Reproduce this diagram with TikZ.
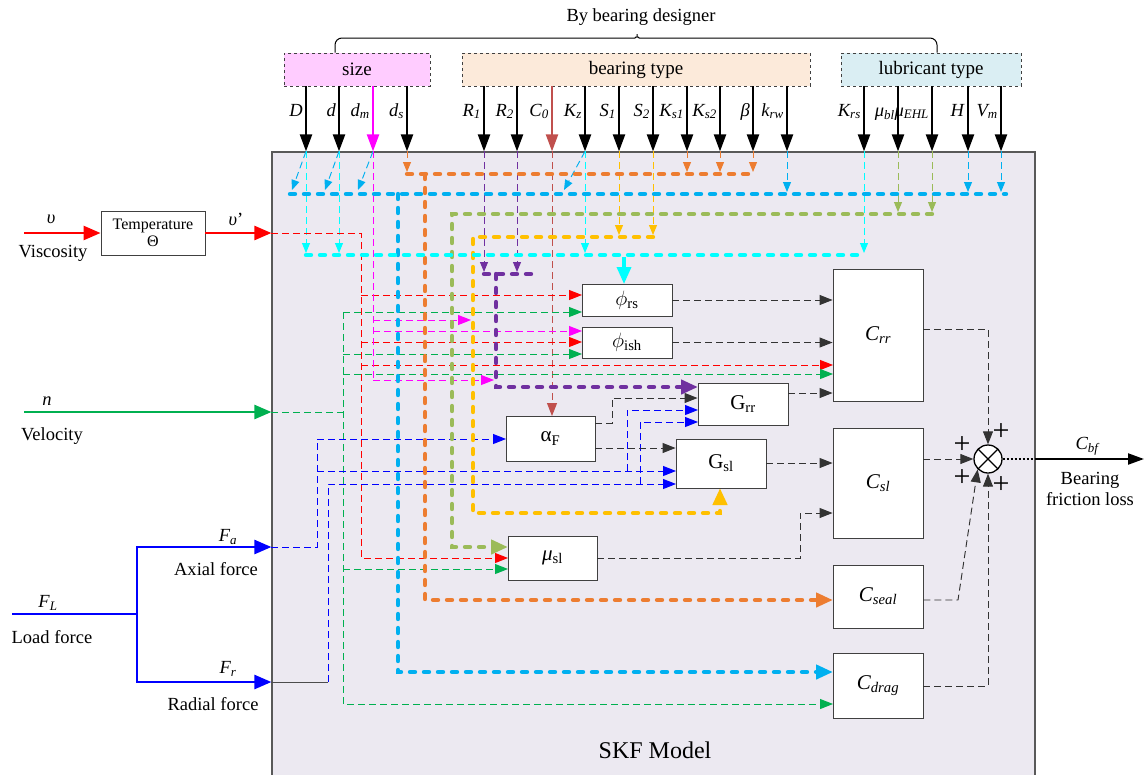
\documentclass[tikz,border=0pt]{standalone}
\usepackage{fontspec}
\setmainfont{Liberation Serif}
\usepackage{amsmath}
\usetikzlibrary{arrows.meta, positioning, calc}
\definecolor{sky}{HTML}{00B0F0}
\definecolor{cyn}{HTML}{00FFFF}
\definecolor{orng}{HTML}{ED7D31}
\definecolor{olv}{HTML}{9BBB59}
\definecolor{yel}{HTML}{FFC000}
\definecolor{purp}{HTML}{7030A0}
\definecolor{brwn}{HTML}{C0504D}
\definecolor{rd}{HTML}{FF0000}
\definecolor{grn}{HTML}{00B050}
\definecolor{mag}{HTML}{FF00FF}
\definecolor{blu}{HTML}{0000FF}
\definecolor{skfbg}{HTML}{ECE9F1}
\definecolor{sizefill}{HTML}{FFCCFF}
\definecolor{typefill}{HTML}{FCEADA}
\definecolor{lubefill}{HTML}{DAEEF3}

\begin{document}
\begin{tikzpicture}[x=1pt, y=-1pt,
  blk/.style={draw=black!75, fill=white, line width=0.9pt, inner sep=0pt, font=\fontsize{21}{23}\selectfont},
  grp/.style={draw=black!75, dashed, line width=0.9pt, minimum height=33pt, inner sep=0pt, font=\fontsize{19}{21}\selectfont},
  lab/.style={font=\fontsize{18.5}{21}\selectfont, inner sep=0pt},
  plus/.style={font=\fontsize{30}{30}\selectfont, inner sep=0pt},
  dl/.style={line width=0.95pt, dash pattern=on 7pt off 4pt},
  dt/.style={line width=4.4pt, dash pattern=on 5pt off 9pt, line cap=round},
  sa/.style={-{Triangle[length=10pt,width=8pt]}},
  ma/.style={-{Triangle[length=13pt,width=10pt]}},
  la/.style={-{Triangle[length=17pt,width=14pt]}},
  toparr/.style={line width=2.2pt, -{Triangle[length=17pt,width=12pt]}},
  inarr/.style={line width=2.5pt, -{Triangle[length=17pt,width=14pt]}}
]
\useasboundingbox (0,0) rectangle (1145,774);

\node[draw=black!65, fill=skfbg, line width=1.2pt, minimum width=763pt, minimum height=630pt, inner sep=0pt] (skf) at (653.5,467) {};
\node[lab, font=\fontsize{24}{26}\selectfont] (skfl) at (655,750) {SKF Model};

% parameter groups
\node[grp, fill=sizefill, minimum width=146pt] (size) at (357,69.5) {size};
\node[grp, fill=typefill, minimum width=348pt] (btype) at (636,69.5) {bearing type};
\node[grp, fill=lubefill, minimum width=180pt] (lube) at (931,69.5) {lubricant type};
\draw[line width=1pt, rounded corners=7pt] (size.north -| 335,0) -- (335,38) -- (628,38)
  .. controls (634,38) and (637,36) .. (637,30) .. controls (637,36) and (640,38) .. (646,38)
  -- (937,38) -- (lube.north -| 937,0);
\node[lab] (bbd) at (641,17) {By bearing designer};

\foreach \x/\b/\c/\t in {306/size/black/{\textit{D}}, 339/size/black/{\textit{d}},
  373/size/mag/{\textit{d\textsubscript{m}}}, 407/size/black/{\textit{d\textsubscript{s}}},
  484/btype/black/{\textit{R\textsubscript{1}}}, 517/btype/black/{\textit{R\textsubscript{2}}},
  552/btype/brwn/{\textit{C\textsubscript{0}}}, 585/btype/black/{\textit{K\textsubscript{z}}},
  619/btype/black/{\textit{S\textsubscript{1}}}, 653/btype/black/{\textit{S\textsubscript{2}}},
  687/btype/black/{\textit{K\textsubscript{s1}}}, 720/btype/black/{\textit{K\textsubscript{s2}}},
  753/btype/black/{\textit{β}}, 787/btype/black/{\textit{k\textsubscript{rw}}},
  864/lube/black/{\textit{K\textsubscript{rs}}}, 898/lube/black/{\textit{μ\textsubscript{bl}}},
  932/lube/black/{\textit{μ\textsubscript{EHL}}}, 968/lube/black/{\textit{H}},
  1001/lube/black/{\textit{V\textsubscript{m}}}}
{
  \draw[toparr, \c] (\b.south -| \x,0) -- (skf.north -| \x,0);
  \node[lab, anchor=base east] (p\x) at (\x-3,116) {\t};
}

% left inputs
\node[blk, minimum width=104pt, minimum height=44pt, align=center, font=\fontsize{16}{17}\selectfont] (temp) at (153,233) {Temperature\\Θ};
\coordinate (vin) at (24,233);
\draw[inarr, rd] (vin) -- (temp.west);
\draw[inarr, rd] (temp.east) -- (skf.west |- temp.east);
\node[lab] (lv) at (51,219) {\textit{υ}};
\node[lab] (lvis) at (53,253) {Viscosity};
\node[lab] (lv2) at (236,219) {\textit{υ}'};

\coordinate (nin) at (24,412);
\draw[inarr, grn] (nin) -- (skf.west |- nin);
\node[lab] (ln) at (47,401) {\textit{n}};
\node[lab] (lvel) at (52,436) {Velocity};

\coordinate (fl) at (12,614);
\coordinate (fj) at (137,614);
\draw[line width=2.5pt, blu] (fl) -- (fj);
\draw[inarr, blu] (fj) |- (skf.west |- 0,547);
\draw[inarr, blu] (fj) |- (skf.west |- 0,682);
\node[lab] (lfl) at (48,603) {\textit{F\textsubscript{L}}};
\node[lab] (lload) at (52,637) {Load force};
\node[lab] (lfa) at (228,537) {\textit{F\textsubscript{a}}};
\node[lab] (lax) at (216,569) {Axial force};
\node[lab] (lfr) at (228,669) {\textit{F\textsubscript{r}}};
\node[lab] (lrad) at (213,704) {Radial force};

% thin drops from the parameters
\foreach \x/\c/\y in {306/cyn/255, 339/cyn/255, 407/orng/174, 484/purp/274, 517/purp/274,
  585/cyn/255, 619/yel/237, 653/yel/237, 687/orng/174, 720/orng/174, 753/orng/174,
  787/sky/194, 864/cyn/255, 898/olv/214, 932/olv/214, 968/sky/194, 1001/sky/194}
  \draw[dl, \c, sa] (skf.north -| \x,0) -- (\x,\y-2);
\foreach \x/\e in {306/292, 339/325, 373/358, 585/564}
  \draw[dl, sky, sa] (skf.north -| \x,0) -- (\e,190);
\draw[dl, brwn, ma] (skf.north -| 552,0) -- (552,416);

% viscosity
\draw[dl, rd, ma] (skf.west |- temp.east) -- (361,233) -- (361,558) -- (508,558);
\draw[dl, rd, ma] (361,295) -- (582,295);
\draw[dl, rd, ma] (361,342) -- (582,342);
\draw[dl, rd, ma] (361,365) -- (833,365);
% velocity
\draw[dl, grn] (skf.west |- nin) -- (343,412);
\draw[dl, grn, ma] (343,312) -- (343,704) -- (833,704);
\draw[dl, grn, ma] (343,312) -- (582,312);
\draw[dl, grn, ma] (343,354) -- (582,354);
\draw[dl, grn, ma] (343,374) -- (833,374);
\draw[dl, grn, ma] (343,569) -- (508,569);
% mean diameter
\draw[dl, mag] (skf.north -| 373,0) -- (373,380);
\draw[dl, mag, ma] (373,380) -- (494,380);
\draw[dl, mag, ma] (373,320) -- (471,320);
\draw[dl, mag, ma] (373,331) -- (582,331);
% loads
\draw[dl, blu, ma] (skf.west |- 0,547) -- (317,547) -- (317,439) -- (506,439);
\draw[dl, blu, ma] (317,471) -- (676,471);
\draw[dl, blu, ma] (627,471) -- (627,410) -- (698,410);
\draw[line width=1pt, black!70] (skf.west |- 0,682) -- (328,682);
\draw[dl, blu, ma] (328,682) -- (328,484) -- (676,484);
\draw[dl, blu, ma] (640,484) -- (640,422) -- (698,422);

% parameter buses
\draw[dt, sky] (290,194) -- (1006,194);
\draw[dt, sky, la] (398,194) -- (398,672) -- (833,672);
\draw[dt, orng] (407,174) -- (755,174);
\draw[dt, orng, la] (425,174) -- (425,600) -- (833,600);
\draw[dt, olv, la] (932,214) -- (452,214) -- (452,547) -- (508,547);
\draw[dt, yel, la] (653,237) -- (473,237) -- (473,513) -- (720,513) -- (720,488);
\draw[dt, cyn] (306,255) -- (865,255);
\draw[line width=3.5pt, cyn, la] (624,257) -- (624,284);
\draw[dt, purp] (484,274) -- (533,274);
\draw[dt, purp, la] (496,274) -- (496,387) -- (698,387);

% blocks
\node[blk, minimum width=90pt, minimum height=32pt] (phirs) at (627,300) {$\phi$\textsubscript{rs}};
\node[blk, minimum width=90pt, minimum height=31pt] (phish) at (627,342.5) {$\phi$\textsubscript{ish}};
\node[blk, minimum width=90pt, minimum height=42pt] (grr) at (743,404) {G\textsubscript{rr}};
\node[blk, minimum width=89pt, minimum height=45pt] (alphaF) at (550.5,438.5) {α\textsubscript{F}};
\node[blk, minimum width=90pt, minimum height=49pt] (gsl) at (721,463.5) {G\textsubscript{sl}};
\node[blk, minimum width=89pt, minimum height=44pt] (musl) at (552.5,558) {\textit{μ}\textsubscript{sl}};
\node[blk, minimum width=90pt, minimum height=132pt] (crr) at (878,335) {\textit{C\textsubscript{rr}}};
\node[blk, minimum width=90pt, minimum height=110pt] (csl) at (878,483) {\textit{C\textsubscript{sl}}};
\node[blk, minimum width=90pt, minimum height=63pt] (cseal) at (878,596.5) {\textit{C\textsubscript{seal}}};
\node[blk, minimum width=90pt, minimum height=65pt] (cdrag) at (878,685.5) {\textit{C\textsubscript{drag}}};
\node[circle, draw, line width=1.3pt, fill=white, minimum size=28pt, inner sep=0pt,
  path picture={\draw[line width=1.3pt] (path picture bounding box.north west) -- (path picture bounding box.south east)
  (path picture bounding box.south west) -- (path picture bounding box.north east);}] (sum) at (988,459) {};

% block outputs
\draw[dl, black!80, ma] (phirs.east) -- (crr.west |- phirs.east);
\draw[dl, black!80, ma] (phish.east) -- (crr.west |- phish.east);
\draw[dl, black!80, ma] (grr.east |- 0,393) -- (crr.west |- 0,393);
\draw[dl, black!80, ma] (alphaF.east |- 0,423) -- (612,423) -- (612,398) -- (grr.west |- 0,398);
\draw[dl, black!80, ma] (alphaF.east |- 0,448) -- (gsl.west |- 0,448);
\draw[dl, black!80, ma] (gsl.east |- 0,463) -- (csl.west |- 0,463);
\draw[dl, black!80, ma] (musl.east) -- (800,558) -- (800,513) -- (csl.west |- 0,513);
\draw[dl, black!80, ma] (crr.east |- 0,329) -- (988,329) -- (sum.north);
\draw[dl, black!80, ma] (csl.east |- sum.west) -- (sum.west);
\draw[dl, black!80, ma] (cseal.east |- 0,600) -- (958,600) -- (sum.south west);
\draw[dl, black!80, ma] (cdrag.east |- 0,686) -- (988,686) -- (sum.south);

\node[plus] (pa) at (1001,432) {+};
\node[plus] (pb) at (962,445) {+};
\node[plus] (pc) at (962,478) {+};
\node[plus] (pd) at (1001,485) {+};

% output
\coordinate (out) at (1144,459);
\draw[line width=1.3pt, dash pattern=on 2pt off 2pt] (sum.east) -- (skf.east |- sum.east);
\draw[line width=2.2pt, -{Triangle[length=16pt,width=11pt]}] (skf.east |- sum.east) -- (out);
\node[lab] (lcbf) at (1087,446) {\textit{C\textsubscript{bf}}};
\node[lab, align=center] (lbfl) at (1090,489) {Bearing\\friction loss};
\end{tikzpicture}
\end{document}
